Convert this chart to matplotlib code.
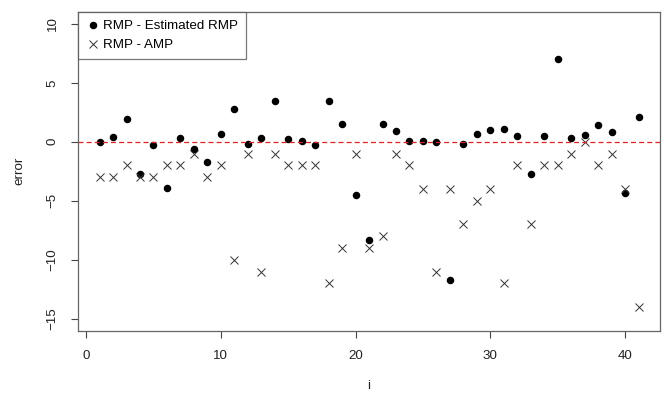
import matplotlib.pyplot as plt
import numpy as np

# index and the two error series
i = np.arange(1, 42)
est_err = [0.0, 0.38, 1.9, -2.75, -0.3, -3.9, 0.32, -0.64, -1.74, 0.69,
           2.81, -0.15, 0.32, 3.46, 0.24, 0.1, -0.27, 3.46, 1.48, -4.5,
           -8.35, 1.48, 0.89, 0.1, 0.1, 0.0, -11.7, -0.15, 0.66, 0.97,
           1.06, 0.47, -2.75, 0.47, 7.05, 0.32, 0.55, 1.4, 0.83, -4.36,
           2.08]
amp_err = [-3, -3, -2, -3, -3, -2, -2, -1, -3, -2,
           -10, -1, -11, -1, -2, -2, -2, -12, -9, -1,
           -9, -8, -1, -2, -4, -11, -4, -7, -5, -4,
           -12, -2, -7, -2, -2, -1, 0, -2, -1, -4,
           -14]

plt.rcParams['font.family'] = ['Liberation Sans', 'DejaVu Sans']
fs = 9.6

fig = plt.figure(figsize=(6.67, 3.94), dpi=100)
ax = fig.add_axes([0.117, 0.1607, 0.8726, 0.809])

ax.plot(i, est_err, 'o', color='black', markersize=4.4,
        label='RMP - Estimated RMP')
ax.plot(i, amp_err, 'x', color='#333333', markersize=5.6,
        markeredgewidth=0.7, label='RMP - AMP')
ax.axhline(0, color='#dd2222', linestyle=(0, (4, 2.5)), linewidth=0.9)

ax.set_xlim(-0.6, 42.6)
ax.set_ylim(-16.0, 11.0)
ax.set_xticks([0, 10, 20, 30, 40])
ax.set_yticks([-15, -10, -5, 0, 5, 10])
for lab in ax.get_yticklabels():
    lab.set_rotation(90)
    lab.set_va('center')
ax.tick_params(direction='out', length=5, width=0.8, colors='#444444',
               labelcolor='#222222', labelsize=fs, pad=9)
for sp in ax.spines.values():
    sp.set_color('#666666')
    sp.set_linewidth(0.9)

ax.set_xlabel('i', fontsize=fs, color='#222222', labelpad=13)
ax.set_ylabel('error', fontsize=fs, color='#222222', labelpad=15)

leg = ax.legend(loc='upper left', fontsize=fs, frameon=True, fancybox=False,
                borderaxespad=0, handletextpad=0.3, handlelength=1.0,
                borderpad=0.6, labelspacing=0.5)
leg.get_frame().set_edgecolor('#555555')
leg.get_frame().set_linewidth(0.9)

fig.savefig('out.png', dpi=100)
